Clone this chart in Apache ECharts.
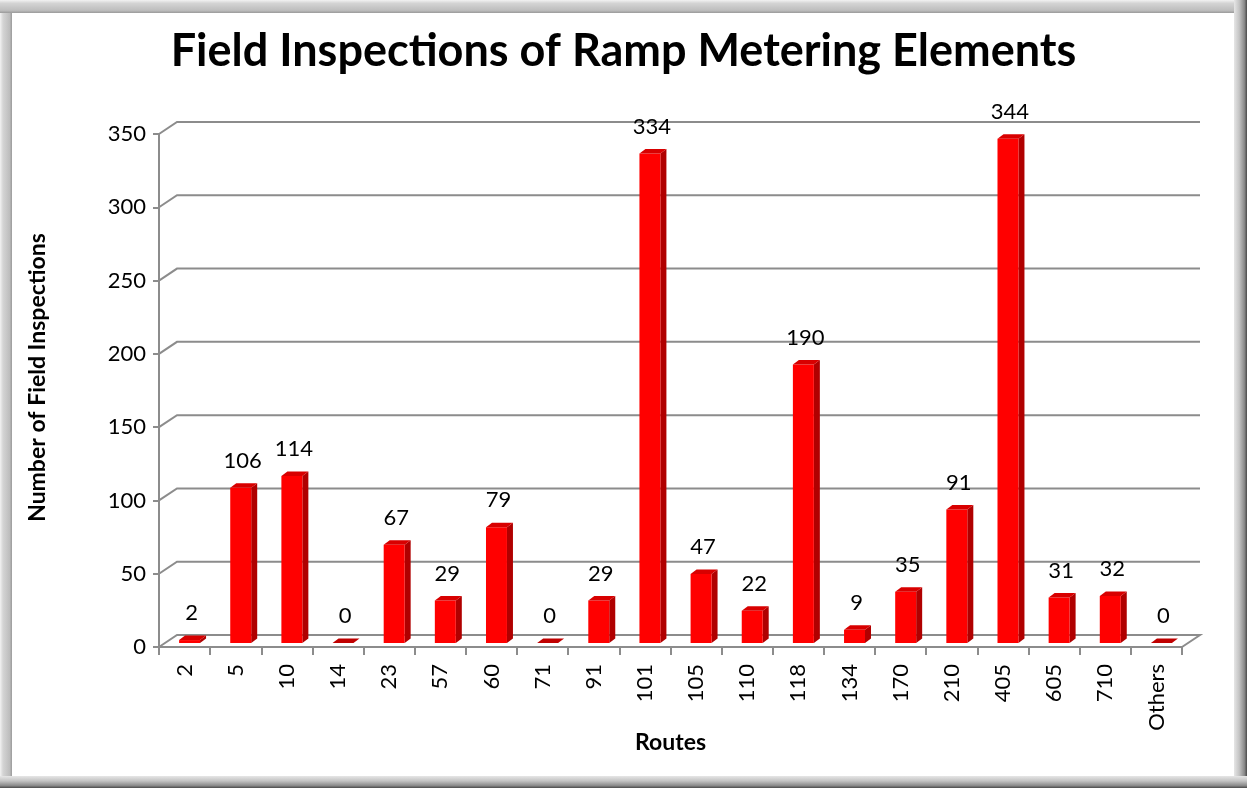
<!DOCTYPE html>
<html>
<head>
<meta charset="utf-8">
<script src="https://cdn.jsdelivr.net/npm/echarts@6/dist/echarts.min.js"></script>
<style>html,body{margin:0;padding:0;background:#fff;}#c{width:1247px;height:788px;}</style>
</head>
<body>
<div id="c"></div>
<script>
const titleText = 'Field Inspections of Ramp Metering Elements';
const routes = ['2','5','10','14','23','57','60','71','91','101','105','110','118','134','170','210','405','605','710','Others'];
const inspections = [2,106,114,0,67,29,79,0,29,334,47,22,190,9,35,91,344,31,32,0];
const yTicks = [0,50,100,150,200,250,300,350];
const xAxisTitle = 'Routes';
const yAxisTitle = 'Number of Field Inspections';

const FONT = 'Lato, "Open Sans", sans-serif';
const DEPTH_X = 18, DEPTH_Y = -12;
const GRID_COLOR = '#8c8c8c';

const chart = echarts.init(document.getElementById('c'), null, {renderer: 'canvas'});

function wallRender(params, api) {
  const cs = params.coordSys;
  const v = api.value(0);
  const p = api.coord([0, v]);
  const y = p[1];
  const x0 = cs.x, x1 = cs.x + cs.width;
  const pts = [[x0, y], [x0 + DEPTH_X, y + DEPTH_Y], [x1 + DEPTH_X, y + DEPTH_Y]];
  if (v === 0) pts.push([x1, y]);
  return {type: 'polyline', shape: {points: pts}, style: {stroke: GRID_COLOR, lineWidth: 2, fill: null}};
}

function barRender(params, api) {
  const i = api.value(0), v = api.value(1);
  const base = api.coord([i, 0]);
  const top = api.coord([i, v]);
  const bw = api.size([1, 0])[0] * 0.41;
  const ox = 5, oy = -4, dx = 6, dy = -4.5;
  const xl = base[0] - bw / 2 + ox, xr = xl + bw;
  const yb = base[1] + oy, yt = top[1] + oy;
  const children = [];
  children.push({type: 'polygon', shape: {points: [[xr, yb], [xr + dx, yb + dy], [xr + dx, yt + dy], [xr, yt]]}, style: {fill: '#b00000'}});
  children.push({type: 'rect', shape: {x: xl, y: yt, width: bw, height: yb - yt}, style: {fill: '#ff0000'}});
  children.push({type: 'polygon', shape: {points: [[xl, yt], [xl + dx, yt + dy], [xr + dx, yt + dy], [xr, yt]]}, style: {fill: v === 0 ? '#c00000' : '#d80000'}});
  children.push({type: 'text', style: {text: String(v), x: xl + bw / 2 + 2, y: yt - 27, align: 'center', verticalAlign: 'middle', font: '22px ' + FONT, fill: '#000'}});
  return {type: 'group', children};
}

const option = {
  animation: false,
  backgroundColor: '#fff',
  title: {
    text: titleText, left: 'center', top: 24,
    textStyle: {fontFamily: FONT, fontSize: 45, fontWeight: 'bold', color: '#000'}
  },
  grid: {left: 159, right: 65, top: 134, bottom: 141, containLabel: false},
  xAxis: {
    type: 'category', data: routes, boundaryGap: true,
    name: xAxisTitle, nameLocation: 'middle', nameGap: 84, nameMoveOverlap: false,
    nameTextStyle: {fontFamily: FONT, fontSize: 23, fontWeight: 'bold', color: '#000'},
    axisLine: {lineStyle: {color: GRID_COLOR, width: 2}},
    axisTick: {show: true, length: 8, lineStyle: {color: GRID_COLOR, width: 2}, alignWithLabel: false},
    axisLabel: {rotate: 90, margin: 17, fontFamily: FONT, fontSize: 22, color: '#000'},
    splitLine: {show: false}
  },
  yAxis: {
    type: 'value', min: yTicks[0], max: yTicks[yTicks.length - 1], interval: yTicks[1] - yTicks[0],
    name: yAxisTitle, nameLocation: 'middle', nameGap: 110, nameMoveOverlap: false,
    nameTextStyle: {fontFamily: FONT, fontSize: 23, fontWeight: 'bold', color: '#000', padding: [0, 0, 0, 26]},
    axisLine: {show: true, lineStyle: {color: GRID_COLOR, width: 2}},
    axisTick: {show: true, length: 6, lineStyle: {color: GRID_COLOR, width: 2}},
    axisLabel: {margin: 13, fontFamily: FONT, fontSize: 22, color: '#000'},
    splitLine: {show: false}
  },
  series: [
    {type: 'custom', renderItem: wallRender, data: yTicks.map(v => [v]), encode: {y: 0}, silent: true, z: 1},
    {type: 'custom', renderItem: barRender, data: inspections.map((v, i) => [i, v]), encode: {x: 0, y: 1}, z: 3}
  ],
  graphic: [
    {type: 'rect', left: 0, top: 0, shape: {width: 12, height: 788}, style: {fill: {type: 'linear', x: 0, y: 0, x2: 1, y2: 0, colorStops: [{offset: 0, color: '#f2f2f2'}, {offset: 0.25, color: '#d4d4d4'}, {offset: 0.8, color: '#bdbdbd'}, {offset: 1, color: '#9a9a9a'}]}}, z: 10},
    {type: 'rect', left: 0, top: 0, shape: {width: 1247, height: 13}, style: {fill: {type: 'linear', x: 0, y: 0, x2: 0, y2: 1, colorStops: [{offset: 0, color: '#f2f2f2'}, {offset: 0.25, color: '#d4d4d4'}, {offset: 0.8, color: '#bdbdbd'}, {offset: 1, color: '#9a9a9a'}]}}, z: 10},
    {type: 'rect', left: 1234, top: 0, shape: {width: 13, height: 788}, style: {fill: {type: 'linear', x: 0, y: 0, x2: 1, y2: 0, colorStops: [{offset: 0, color: '#e6e6e6'}, {offset: 0.4, color: '#c4c4c4'}, {offset: 0.8, color: '#8a8a8a'}, {offset: 1, color: '#4a4a4a'}]}}, z: 11},
    {type: 'rect', left: 0, top: 776, shape: {width: 1247, height: 12}, style: {fill: {type: 'linear', x: 0, y: 0, x2: 0, y2: 1, colorStops: [{offset: 0, color: '#e6e6e6'}, {offset: 0.4, color: '#c4c4c4'}, {offset: 0.8, color: '#8a8a8a'}, {offset: 1, color: '#4a4a4a'}]}}, z: 11}
  ]
};
chart.setOption(option);
</script>
</body>
</html>
